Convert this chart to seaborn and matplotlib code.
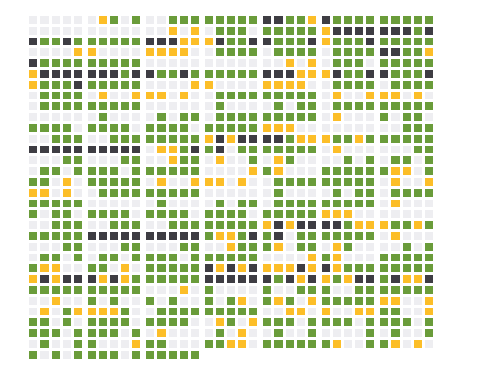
import numpy as np
import matplotlib
matplotlib.use("Agg")
import matplotlib.pyplot as plt
import seaborn as sns
from matplotlib.colors import ListedColormap

# category codes: W = empty/none, G = green, Y = yellow, D = dark
categories = ["W", "G", "Y", "D"]
colors = ["#eeeef1", "#6a9c3a", "#fcbe28", "#3e3d43"]

rows = [
    "WWWWW WYGWG WWGGG GGGGG DDGGY DGGGG GGGGG",
    "WWWWW WWWWW WWYWY WGGGW GGGGG YDDDD DDDGD",
    "DGGDG GGGGG DDDYY YDGGD DGGGD YGGGD GGGGG",
    "WWWWY YWWWW YYYYW WGGGG WGGGG WGGGG DDGGY",
    "DGGGG GGGGG WWWWW WWWWW WWYWY WGGGW GGGGG",
    "YDDDD DDDGD DGGDG GGGGG DDDYY YDGGD DGGGD",
    "YGGGD GGGGG WWWWY YWWWW YYYYW WGGGG WGGGG",
    "WGGGG WYWWY YYWYW WGGGG GGGGG WYWWY YYWYW",
    "WGGGG GGGGG WWWWW WGWWW WGWGG WGGGG GGGGG",
    "WWWWW WGWWW WGWGG WGGGG GGGGG WYWWW GWGGW",
    "GGGGW GGGGW GGGGW GGGGG YYYWW WWWWW WWGGG",
    "WWGGG WWGGG GGGGG YDYDD DDGYY YGGYG GGGGG",
    "DDDDD DDDDD WYYGD GDWGG GGGGG WYWWW WWWGG",
    "WWWGG WWWGG WWYGG WYWWG WYGWW WWGWG WGGWG",
    "WGGWG GGGWG GGGGG WWWWY GYWWW GGGGG GYYWG",
    "GGWYW GGGGG WYWWY YYWYW WGGGG GGGGG WYWWY",
    "YYWYW WGGGG GGGGG WWWWW WGWWW WGWGG WGGGG",
    "GGGGG WWWWW WGWWW WGWGG WGGGG GGGGG WYWWW",
    "GWGGW GGGGW GGGGW GGGGW GGGGG YYYWW WWWWW",
    "WWGGG WWGGG WWGGG GGGGG YDYDD DDGYY YGGYG",
    "GGGGG DDDDD DDDDD GYYGD GDWGG GGGGG WYWWW",
    "WWWGG WWWGG WWWGG WWYGG GYWGG WYGWW WWGWG",
    "WGGWG WGGWG GGGWG GGGGG WWWWY GYWWW GGGGG",
    "GYYWW GGWYW GGGGG DYDYD YYYDY DYGGG GGGGG",
    "YDYDD DYDYG GGGGG DDDDD DGDYD YGYDD GDYYD",
    "GGGGG GGGGG WWWYW GWWWW GWWGG GWWGG GGGGG",
    "WWYWW GWGWW GWGWW GWGYW GYGWY GGGGG YYWWY",
    "WYWGY YYYGW WGGGG GGGGG WWYYW YWWYY GGWWY",
    "GGWGW GGGGW GGGGW WYGWY GGGWG GGGWG GGGWG",
    "GGGWG GGGWG WYWWW WGWYW WGWWG WWWWG WGWWG",
    "WGWWG GWWWY GGWWW GGYYW GGGGG GYWWG GYWYW",
    "GWGWG GGGWG GGGGG",
]

n_cols = 35
block = 5
grid = np.full((len(rows), n_cols), np.nan)
for r, s in enumerate(rows):
    s = s.replace(" ", "")
    for c, ch in enumerate(s):
        grid[r, c] = categories.index(ch)

fig = plt.figure(figsize=(5, 3.75), dpi=100)
fig.patch.set_facecolor("white")
cmap = ListedColormap(colors)

W, H = 500.0, 375.0
left0, bottom, blk_w, blk_pitch, height = 27.3, 15.4, 55.5, 58.5, 345.6
for b in range(n_cols // block):
    ax = fig.add_axes([(left0 + blk_pitch * b) / W, bottom / H, blk_w / W, height / H])
    sub = grid[:, b * block:(b + 1) * block]
    sns.heatmap(sub, ax=ax, cmap=cmap, vmin=-0.5, vmax=3.5, cbar=False,
                mask=np.isnan(sub), linewidths=1.0, linecolor="white",
                xticklabels=False, yticklabels=False)
    ax.set_axis_off()

fig.savefig("out.png", dpi=100, facecolor="white")
